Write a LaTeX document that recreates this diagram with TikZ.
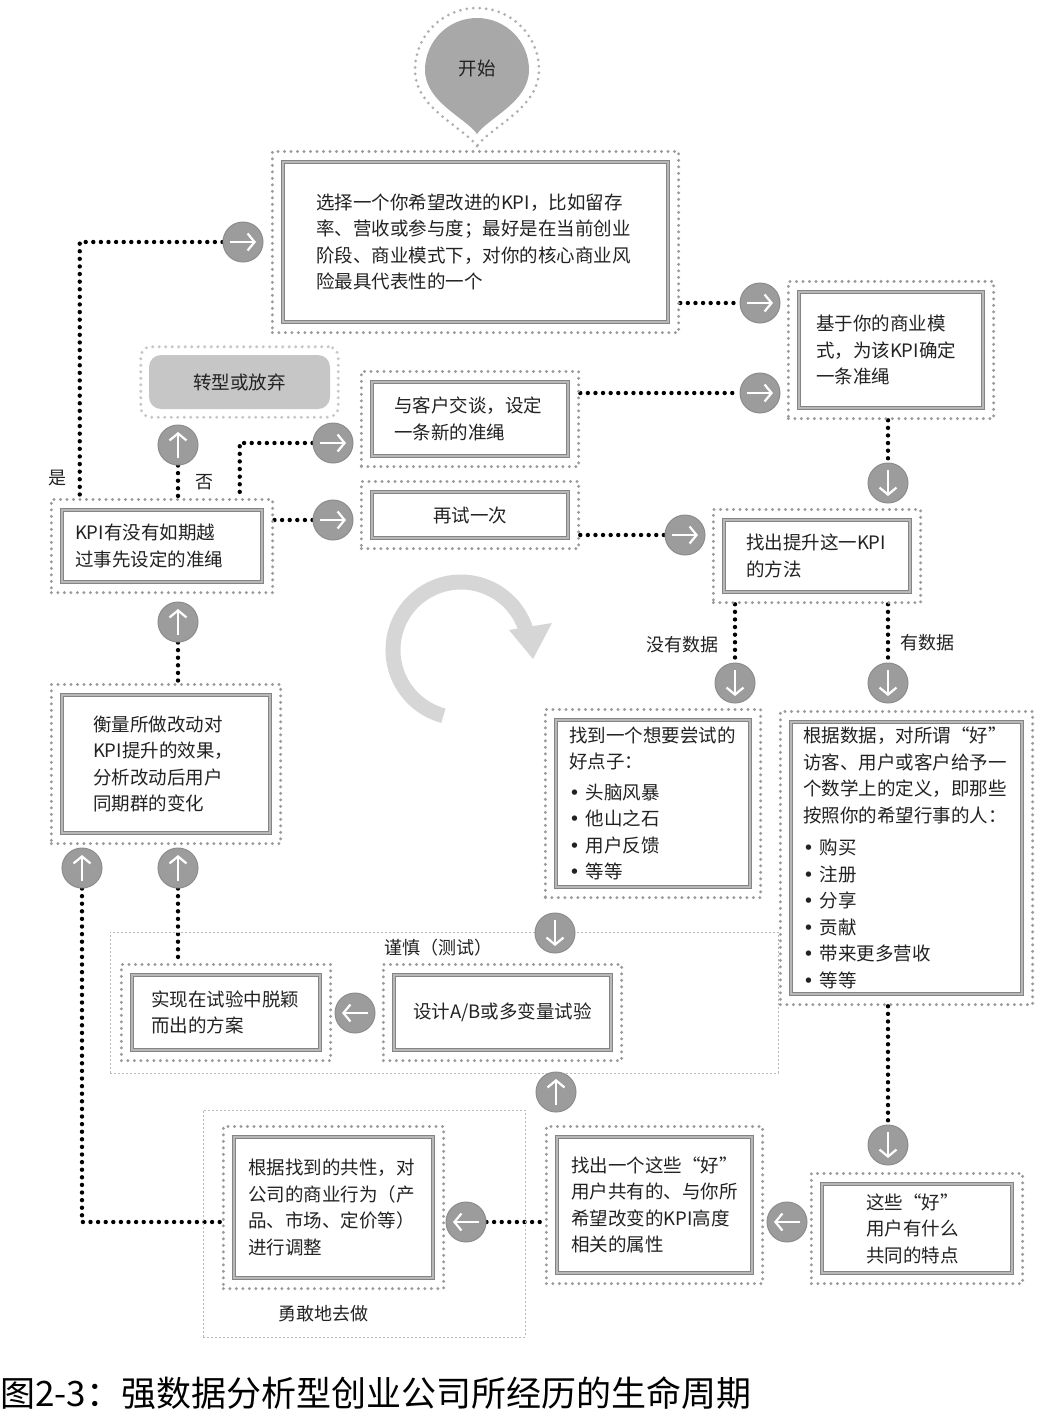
\documentclass[tikz,border=0pt]{standalone}
\usepackage{fontspec}
\setmainfont{Noto Sans CJK SC}
\newfontfamily\dotfont{DejaVu Sans}
\newcommand{\itemdot}{{\dotfont •}\hspace{6pt}}
\usetikzlibrary{arrows.meta,fit,backgrounds}

\definecolor{btngray}{HTML}{9C9C9C}
\definecolor{btnrim}{HTML}{8C8C8C}
\definecolor{halogray}{HTML}{9A9A9A}
\definecolor{linegray}{HTML}{848484}
\definecolor{ringgray}{HTML}{D6D6D6}
\definecolor{dropgray}{HTML}{A8A8A8}
\definecolor{pivotgray}{HTML}{C6C6C6}
\definecolor{txt}{HTML}{222222}

\tikzset{
  ib/.style={draw=linegray, line width=1.2pt, double=black!28, double distance=1.3pt,
    fill=white, align=left, inner ysep=0pt, text=txt,
    font=\fontsize{18.5}{26.5}\selectfont},
  halo/.style={rectangle, draw=halogray, line width=3.3pt, dash pattern=on 0pt off 6.5pt,
    line cap=round, inner sep=10pt},
  conn/.style={draw=black, line width=4.4pt, dash pattern=on 0pt off 7.6pt, line cap=round},
  frame/.style={draw=black!28, line width=0.9pt, dash pattern=on 2pt off 2pt, inner sep=0pt},
  lbl/.style={text=txt, font=\fontsize{18}{22}\selectfont, inner sep=0pt},
  btn/.style={circle, fill=btngray, draw=btnrim, line width=1pt, minimum size=40pt, inner sep=0pt},
  glyph/.style={draw=white, line width=2.2pt, -{Straight Barb[length=7pt,width=17pt]}},
  btnR/.style={btn, path picture={\draw[glyph] ([xshift=-13pt]path picture bounding box.center) -- ([xshift=13pt]path picture bounding box.center);}},
  btnL/.style={btn, path picture={\draw[glyph] ([xshift=13pt]path picture bounding box.center) -- ([xshift=-13pt]path picture bounding box.center);}},
  btnU/.style={btn, path picture={\draw[glyph] ([yshift=-13pt]path picture bounding box.center) -- ([yshift=13pt]path picture bounding box.center);}},
  btnD/.style={btn, path picture={\draw[glyph] ([yshift=13pt]path picture bounding box.center) -- ([yshift=-13pt]path picture bounding box.center);}},
}

\begin{document}
\begin{tikzpicture}[x=1pt,y=-1pt]
\useasboundingbox (0,0) rectangle (1042,1428);
\begin{scope}[on background layer]
  \fill[white] (0,0) rectangle (1042,1428);
\end{scope}

% dashed zones
\node[frame, minimum width=668pt, minimum height=141pt] (testzone) at (444,1002.5) {};
\node[frame, minimum width=322pt, minimum height=227pt] (dozone) at (364,1223.5) {};

% cycle symbol
\draw[ringgray, line width=15pt] (461,650) ++(105:68) arc[start angle=105, end angle=342, radius=68];
\fill[ringgray] (509,630) -- (552,623) -- (533,659) -- cycle;

% start drop
\draw[halogray!80, line width=3pt, dash pattern=on 0pt off 6.5pt, line cap=round]
  (477,146) .. controls (462,126) and (415,108) .. (415,70)
  arc[start angle=180, end angle=360, radius=62]
  .. controls (539,108) and (492,126) .. (477,146);
\fill[dropgray]
  (477,134) .. controls (466,118) and (425,102) .. (425,70)
  arc[start angle=180, end angle=360, radius=52]
  .. controls (529,102) and (488,118) .. (477,134) -- cycle;
\node[text=txt, font=\fontsize{18.5}{22}\selectfont] (start) at (477,68) {开始};

% boxes
\node[ib, text width=319pt, inner xsep=33pt, minimum height=160pt] (sel) at (475.5,242)
  {选择一个你希望改进的KPI，比如留存\\率、营收或参与度；最好是在当前创业\\阶段、商业模式下，对你的核心商业风\\险最具代表性的一个};
\node[ib, text width=150pt, inner xsep=17pt, minimum height=116pt] (base) at (891,350)
  {基于你的商业模\\式，为该KPI确定\\一条准绳};
\node[fill=pivotgray, rounded corners=12pt, minimum width=181pt, minimum height=54pt,
  text=txt, font=\fontsize{18.5}{22}\selectfont] (pivot) at (239.5,382) {转型或放弃};
\node[ib, text width=152pt, inner xsep=22pt, minimum height=74pt] (talk) at (470,419)
  {与客户交谈，设定\\一条新的准绳};
\node[ib, inner xsep=0pt, minimum width=196pt, minimum height=46pt] (retry) at (470,515) {再试一次};
\node[ib, text width=174pt, inner xsep=13pt, minimum height=72pt] (kpi) at (162,546)
  {KPI有没有如期越\\过事先设定的准绳};
\node[ib, text width=142pt, inner xsep=22pt, minimum height=72pt] (how) at (817,556)
  {找出提升这一KPI\\的方法};
\node[ib, text width=168pt, inner xsep=13pt, minimum height=167pt] (idea) at (653,803.5)
  {找到一个想要尝试的\\好点子：\\[4pt]\itemdot 头脑风暴\\\itemdot 他山之石\\\itemdot 用户反馈\\\itemdot 等等};
\node[ib, text width=207pt, inner xsep=12pt, minimum height=272pt] (data) at (906.5,858)
  {根据数据，对所谓“好”\\访客、用户或客户给予一\\个数学上的定义，即那些\\按照你的希望行事的人：\\[6pt]\itemdot 购买\\\itemdot 注册\\\itemdot 分享\\\itemdot 贡献\\\itemdot 带来更多营收\\\itemdot 等等};
\node[ib, text width=146pt, inner xsep=31pt, minimum height=138pt] (measure) at (166,764)
  {衡量所做改动对\\KPI提升的效果，\\分析改动后用户\\同期群的变化};
\node[ib, text width=150pt, inner xsep=19pt, minimum height=75pt] (ship) at (226,1012.5)
  {实现在试验中脱颖\\而出的方案};
\node[ib, inner xsep=0pt, minimum width=217pt, minimum height=75pt] (design) at (502.5,1012.5)
  {设计A/B或多变量试验};
\node[ib, text width=171pt, inner xsep=14pt, minimum height=141pt] (adjust) at (333.5,1207.5)
  {根据找到的共性，对\\公司的商业行为（产\\品、市场、定价等）\\进行调整};
\node[ib, text width=167pt, inner xsep=14pt, minimum height=136pt] (attr) at (654.5,1205)
  {找出一个这些“好”\\用户共有的、与你所\\希望改变的KPI高度\\相关的属性};
\node[ib, text width=102pt, inner xsep=44pt, minimum height=89pt] (common) at (917,1228.5)
  {这些“好”\\用户有什么\\共同的特点};

% dotted halos
\node[halo, fit=(sel)] (selh) {};
\node[halo, fit=(base)] (baseh) {};
\node[halo, draw=black!22, rounded corners=10pt, inner sep=8pt, fit=(pivot)] (pivoth) {};
\node[halo, fit=(talk)] (talkh) {};
\node[halo, fit=(retry)] (retryh) {};
\node[halo, fit=(kpi)] (kpih) {};
\node[halo, fit=(how)] (howh) {};
\node[halo, fit=(idea)] (ideah) {};
\node[halo, fit=(data)] (datah) {};
\node[halo, fit=(measure)] (measureh) {};
\node[halo, fit=(ship)] (shiph) {};
\node[halo, fit=(design)] (designh) {};
\node[halo, fit=(adjust)] (adjusth) {};
\node[halo, fit=(attr)] (attrh) {};
\node[halo, fit=(common)] (commonh) {};

% arrow buttons
\node[btnR] (b1) at (243,242) {};
\node[btnR] (b2) at (760,303) {};
\node[btnR] (b3) at (760,393) {};
\node[btnU] (b4) at (178,445) {};
\node[btnR] (b5) at (333,443) {};
\node[btnR] (b6) at (333,520) {};
\node[btnR] (b7) at (685,535) {};
\node[btnD] (b8) at (888,483) {};
\node[btnU] (b9) at (178,622) {};
\node[btnD] (b10) at (735,683) {};
\node[btnD] (b11) at (888,683) {};
\node[btnU] (b12) at (82,868) {};
\node[btnU] (b13) at (178,868) {};
\node[btnD] (b14) at (555,933) {};
\node[btnL] (b15) at (355,1013) {};
\node[btnU] (b16) at (556,1092) {};
\node[btnL] (b17) at (466,1222) {};
\node[btnL] (b18) at (787,1222) {};
\node[btnD] (b19) at (888,1145) {};

% labels
\node[lbl] (yes) at (57,478) {是};
\node[lbl] (no) at (204,482) {否};
\node[lbl] (nodata) at (682,645) {没有数据};
\node[lbl] (hasdata) at (927,643) {有数据};
\node[lbl] (careful) at (438,948) {谨慎（测试）};
\node[lbl] (bold) at (323,1314) {勇敢地去做};

% caption
\node[anchor=west, inner sep=0pt, font=\fontsize{35}{40}\selectfont] (cap) at (0,1393)
  {图2-3：强数据分析型创业公司所经历的生命周期};

% dotted connectors
\begin{scope}[on background layer]
  \draw[conn] (b1.west) -| ([xshift=30pt]kpih.north west);
  \draw[conn] (b4.south) -- (b4.south |- kpih.north);
  \draw[conn] (b5.west) -| ([xshift=190pt]kpih.north west);
  \draw[conn] (b6.west) -- (b6.west -| kpih.east);
  \draw[conn] (selh.east |- b2) -- (b2.west);
  \draw[conn] (talkh.east |- b3) -- (b3.west);
  \draw[conn] (retryh.east |- b7) -- (b7.west);
  \draw[conn] (b8.north |- baseh.south) -- (b8.north);
  \draw[conn] (b10.north |- howh.south) -- (b10.north);
  \draw[conn] (b11.north |- howh.south) -- (b11.north);
  \draw[conn] (b9.south) -- (b9.south |- measureh.north);
  \draw[conn] (b12.south) |- (adjusth.west |- b17);
  \draw[conn] (b13.south) -- (b13.south |- shiph.north);
  \draw[conn] (b17.east) -- (b17.east -| attrh.west);
  \draw[conn] (b19.north |- datah.south) -- (b19.north);
\end{scope}
\end{tikzpicture}
\end{document}
